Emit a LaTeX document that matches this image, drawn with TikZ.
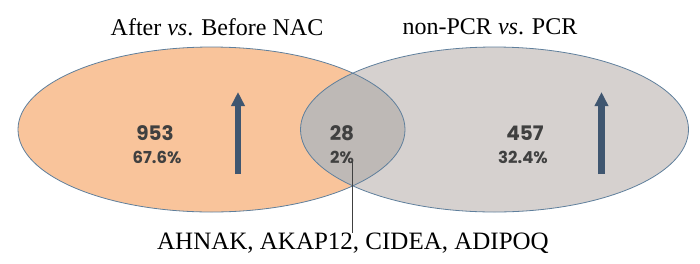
\documentclass[tikz,border=0pt]{standalone}
\usepackage{fontspec}
\setmainfont{Liberation Serif}
\newfontfamily\numfont{Poppins}
\usetikzlibrary{arrows.meta}
\definecolor{orangefill}{HTML}{F9C49B}
\definecolor{grayfill}{HTML}{D6D1CF}
\definecolor{interfill}{HTML}{BEB9B6}
\definecolor{edgeblue}{HTML}{5F7F9C}
\definecolor{arrowblue}{HTML}{3F5670}
\definecolor{numgray}{HTML}{404040}
\begin{document}
\begin{tikzpicture}[x=1pt,y=-1pt,
  setedge/.style={draw=edgeblue,line width=0.8pt},
  upbar/.style={draw=arrowblue,line width=6.5pt,-{Triangle[length=14pt,width=13pt]}},
  bignum/.style={font=\numfont\bfseries\fontsize{20}{23}\selectfont,text=numgray,inner sep=0pt},
  pctnum/.style={font=\numfont\bfseries\fontsize{16.5}{19}\selectfont,text=numgray,inner sep=0pt},
  title/.style={font=\fontsize{24}{28}\selectfont,inner sep=0pt}]
\useasboundingbox (0,0) rectangle (700,263);
% fills
\fill[orangefill] (211.5,129.5) ellipse [x radius=193.5,y radius=82.5];
\fill[grayfill] (494.5,129.5) ellipse [x radius=194,y radius=82.5];
\begin{scope}
  \clip (211.5,129.5) ellipse [x radius=193.5,y radius=82.5];
  \fill[interfill] (494.5,129.5) ellipse [x radius=194,y radius=82.5];
\end{scope}
\draw[setedge] (211.5,129.5) ellipse [x radius=193.5,y radius=82.5];
\draw[setedge] (494.5,129.5) ellipse [x radius=194,y radius=82.5];
% arrows
\coordinate (la0) at (238,174);
\coordinate (la1) at (238,92);
\coordinate (ra0) at (601.5,174);
\coordinate (ra1) at (601.5,92);
\draw[upbar] (la0) -- (la1);
\draw[upbar] (ra0) -- (ra1);
% titles
\node[title] (t1) at (217,27) {After \textit{vs}. Before NAC};
\node[title] (t2) at (490,27) {non-PCR \textit{vs}. PCR};
% numbers
\node[bignum] (n1) at (155,133) {953};
\node[pctnum] (p1) at (157,157) {67.6\%};
\node[bignum] (n2) at (342,133) {28};
\node[pctnum] (p2) at (342,157) {2\%};
\node[bignum] (n3) at (525,133) {457};
\node[pctnum] (p3) at (523,157) {32.4\%};
% leader and label
\node[title,font=\fontsize{25}{29}\selectfont] (genes) at (353,243) {AHNAK, AKAP12, CIDEA, ADIPOQ};
\coordinate (lead) at (352.7,162);
\draw[draw=numgray,line width=0.7pt] (lead) -- (lead |- genes.north);
\end{tikzpicture}
\end{document}
